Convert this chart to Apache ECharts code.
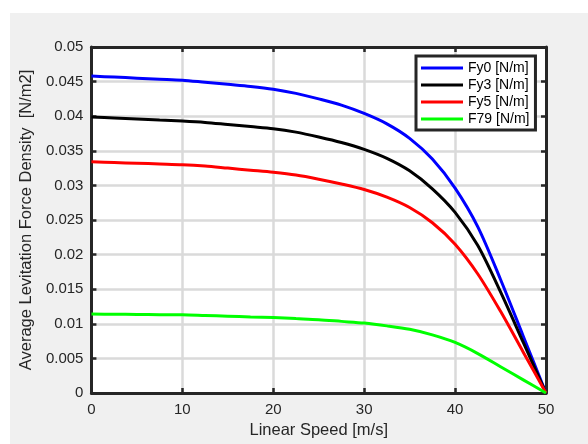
<!DOCTYPE html>
<html>
<head>
<meta charset="utf-8">
<script src="https://cdn.jsdelivr.net/npm/echarts@6/dist/echarts.min.js"></script>
<style>
  body { margin: 0; background: #fff; }
  #chart { position: absolute; left: 10px; top: 13px; width: 578px; height: 431px; }
</style>
</head>
<body>
<div id="chart"></div>
<script>
// speeds [m/s]
var speed = [0, 2.5, 5, 7.5, 10, 12.5, 15, 17.5, 20, 22.5, 25, 27.5, 30, 32.5, 35, 37.5, 40, 42.5, 45, 47.5, 50];
// average levitation force density per case
var fy0 = [0.0458, 0.04565, 0.0455, 0.04535, 0.0452, 0.0449, 0.0446, 0.0443, 0.0439, 0.0433, 0.0425, 0.0416, 0.0404, 0.0389, 0.0368, 0.0338, 0.0296, 0.0240, 0.0164, 0.0082, 0];
var fy3 = [0.0399, 0.03975, 0.0396, 0.03945, 0.0393, 0.0391, 0.0388, 0.0385, 0.0382, 0.0377, 0.0370, 0.0362, 0.0352, 0.0339, 0.0321, 0.0295, 0.0261, 0.0213, 0.0146, 0.0073, 0];
var fy5 = [0.0334, 0.0333, 0.0332, 0.0331, 0.0330, 0.0328, 0.0325, 0.0322, 0.0319, 0.0315, 0.0309, 0.0302, 0.0294, 0.0283, 0.0268, 0.0246, 0.0215, 0.0172, 0.0118, 0.0059, 0];
var f79 = [0.0114, 0.01138, 0.01135, 0.01132, 0.0113, 0.0112, 0.0111, 0.0110, 0.0109, 0.01075, 0.0106, 0.01035, 0.0101, 0.0097, 0.0092, 0.0084, 0.0073, 0.0057, 0.0038, 0.0019, 0];
var names = ['Fy0 [N/m]', 'Fy3 [N/m]', 'Fy5 [N/m]', 'F79 [N/m]'];
var colors = ['#0000ff', '#000000', '#ff0000', '#00ff00'];

function pairs(ys) {
  return speed.map(function (x, i) { return [x, ys[i]]; });
}

var frame = '#262626';
var font = 'Liberation Sans, Arial, sans-serif';

function axis(pos, isX, main) {
  var a = {
    type: 'value',
    position: pos,
    min: 0,
    max: isX ? 50 : 0.05,
    interval: isX ? 10 : 0.005,
    axisLine: { show: true, onZero: false, lineStyle: { color: frame, width: 3 } },
    axisTick: { show: true, inside: true, length: 5, lineStyle: { color: frame, width: 2.5 } },
    axisLabel: { show: main, color: frame, fontSize: 15, fontFamily: font, margin: isX ? 9 : 8 },
    splitLine: { show: main, lineStyle: { color: '#dadada', width: 2.5 } }
  };
  if (main) {
    a.name = isX ? 'Linear Speed [m/s]' : 'Average Levitation Force Density  [N/m2]';
    a.nameLocation = 'middle';
    a.nameGap = isX ? 29 : 49;
    a.nameTextStyle = { color: frame, fontSize: 16.5, fontFamily: font };
  }
  return a;
}

var chart = echarts.init(document.getElementById('chart'));
chart.setOption({
  backgroundColor: '#f0f0f0',
  animation: false,
  grid: { left: 78, top: 34, width: 458, height: 353, show: true, backgroundColor: '#fff', borderWidth: 0 },
  xAxis: [axis('bottom', true, true), axis('top', true, false)],
  yAxis: [axis('left', false, true), axis('right', false, false)],
  legend: {
    orient: 'vertical',
    left: 406,
    top: 43,
    data: names,
    icon: 'rect',
    itemWidth: 42,
    itemHeight: 3,
    itemGap: 3,
    itemTextGap: 7,
    padding: [5, 6, 4, 5],
    backgroundColor: '#fff',
    borderColor: frame,
    borderWidth: 3,
    borderRadius: 0,
    textStyle: { color: '#000', fontSize: 14, fontFamily: font }
  },
  series: [fy0, fy3, fy5, f79].map(function (ys, i) {
    return {
      name: names[i],
      type: 'line',
      data: pairs(ys),
      smooth: 0.3,
      symbol: 'none',
      color: colors[i],
      lineStyle: { color: colors[i], width: 3 }
    };
  })
});
</script>
</body>
</html>
